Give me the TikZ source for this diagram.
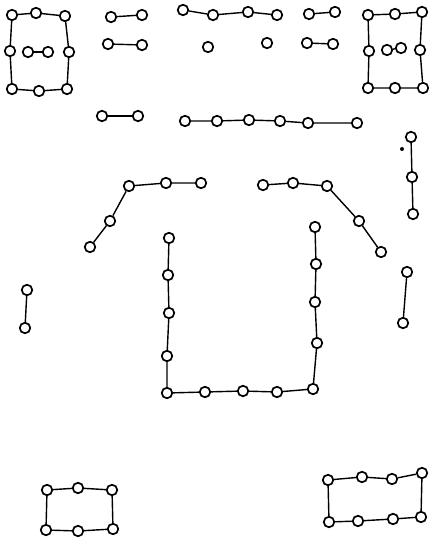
\documentclass[tikz,border=0pt]{standalone}
\begin{document}
\begin{tikzpicture}[x=1pt,y=-1pt,
  pt/.style={circle,draw=black,line width=1.7pt,minimum size=10.5pt,inner sep=0pt,fill=white},
  ln/.style={line width=1.4pt,black},
  dotmark/.style={circle,fill=black,minimum size=4pt,inner sep=0pt}]
\useasboundingbox (0,0) rectangle (430,537);
% top-left box
\node[pt] (a1) at (12,15) {}; \node[pt] (a2) at (36,13) {}; \node[pt] (a3) at (65,16) {};
\node[pt] (a4) at (10,51) {}; \node[pt] (a5) at (28,52) {}; \node[pt] (a6) at (48,52) {}; \node[pt] (a7) at (69,52) {};
\node[pt] (a8) at (12,89) {}; \node[pt] (a9) at (39,91) {}; \node[pt] (a10) at (67,89) {};
\draw[ln] (a1)--(a2)--(a3)--(a7)--(a10)--(a9)--(a8)--(a4)--(a1);
\draw[ln] (a5)--(a6);
% pairs top
\node[pt] (b1) at (111,17) {}; \node[pt] (b2) at (142,15) {};
\node[pt] (b3) at (108,44) {}; \node[pt] (b4) at (142,45) {};
\draw[ln] (b1)--(b2); \draw[ln] (b3)--(b4);
\node[pt] (c1) at (183,10) {}; \node[pt] (c2) at (213,15) {}; \node[pt] (c3) at (248,12) {}; \node[pt] (c4) at (277,15) {};
\draw[ln] (c1)--(c2)--(c3)--(c4);
\node[pt] (c5) at (208,47) {}; \node[pt] (c6) at (267,43) {};
\node[pt] (d1) at (309,14) {}; \node[pt] (d2) at (335,12) {};
\node[pt] (d3) at (307,43) {}; \node[pt] (d4) at (333,44) {};
\draw[ln] (d1)--(d2); \draw[ln] (d3)--(d4);
% top-right box
\node[pt] (e1) at (368,15) {}; \node[pt] (e2) at (395,14) {}; \node[pt] (e3) at (422,12) {};
\node[pt] (e4) at (369,51) {}; \node[pt] (e5) at (387,50) {}; \node[pt] (e6) at (401,48) {}; \node[pt] (e7) at (420,50) {};
\node[pt] (e8) at (368,88) {}; \node[pt] (e9) at (395,88) {}; \node[pt] (e10) at (423,88) {};
\draw[ln] (e1)--(e2)--(e3)--(e7)--(e10)--(e9)--(e8)--(e4)--(e1);
\draw[ln] (e5)--(e6);
% second row
\node[pt] (f1) at (102,116) {}; \node[pt] (f2) at (138,116) {};
\draw[ln] (f1)--(f2);
\node[pt] (g1) at (185,121) {}; \node[pt] (g2) at (217,121) {}; \node[pt] (g3) at (249,120) {};
\node[pt] (g4) at (280,121) {}; \node[pt] (g5) at (308,123) {}; \node[pt] (g6) at (357,123) {};
\draw[ln] (g1)--(g2)--(g3)--(g4)--(g5)--(g6);
\node[pt] (h1) at (411,137) {}; \node[pt] (h2) at (412,177) {}; \node[pt] (h3) at (413,214) {};
\draw[ln] (h1)--(h2)--(h3);
\node[dotmark] (hd) at (402,149) {};
% shoulders
\node[pt] (i1) at (90,247) {}; \node[pt] (i2) at (110,221) {}; \node[pt] (i3) at (129,186) {};
\node[pt] (i4) at (166,183) {}; \node[pt] (i5) at (201,183) {};
\draw[ln] (i1)--(i2)--(i3)--(i4)--(i5);
\node[pt] (j1) at (263,185) {}; \node[pt] (j2) at (293,183) {}; \node[pt] (j3) at (327,186) {};
\node[pt] (j4) at (359,221) {}; \node[pt] (j5) at (381,252) {};
\draw[ln] (j1)--(j2)--(j3)--(j4)--(j5);
% side pairs
\node[pt] (k1) at (27,290) {}; \node[pt] (k2) at (25,328) {};
\draw[ln] (k1)--(k2);
\node[pt] (k3) at (407,272) {}; \node[pt] (k4) at (403,323) {};
\draw[ln] (k3)--(k4);
% U shape
\node[pt] (u1) at (169,238) {}; \node[pt] (u2) at (168,275) {}; \node[pt] (u3) at (169,313) {};
\node[pt] (u4) at (167,356) {}; \node[pt] (u5) at (167,393) {}; \node[pt] (u6) at (205,392) {};
\node[pt] (u7) at (243,391) {}; \node[pt] (u8) at (277,392) {}; \node[pt] (u9) at (313,389) {};
\node[pt] (u10) at (317,343) {}; \node[pt] (u11) at (315,302) {}; \node[pt] (u12) at (316,264) {};
\node[pt] (u13) at (315,227) {};
\draw[ln] (u1)--(u2)--(u3)--(u4)--(u5)--(u6)--(u7)--(u8)--(u9)--(u10)--(u11)--(u12)--(u13);
% bottom boxes
\node[pt] (m1) at (47,490) {}; \node[pt] (m2) at (78,488) {}; \node[pt] (m3) at (112,490) {};
\node[pt] (m4) at (46,530) {}; \node[pt] (m5) at (78,531) {}; \node[pt] (m6) at (113,529) {};
\draw[ln] (m1)--(m2)--(m3)--(m6)--(m5)--(m4)--(m1);
\node[pt] (n1) at (328,480) {}; \node[pt] (n2) at (362,477) {}; \node[pt] (n3) at (392,479) {}; \node[pt] (n4) at (422,473) {};
\node[pt] (n5) at (329,522) {}; \node[pt] (n6) at (358,521) {}; \node[pt] (n7) at (393,519) {}; \node[pt] (n8) at (421,517) {};
\draw[ln] (n1)--(n2)--(n3)--(n4)--(n8)--(n7)--(n6)--(n5)--(n1);
\end{tikzpicture}
\end{document}
